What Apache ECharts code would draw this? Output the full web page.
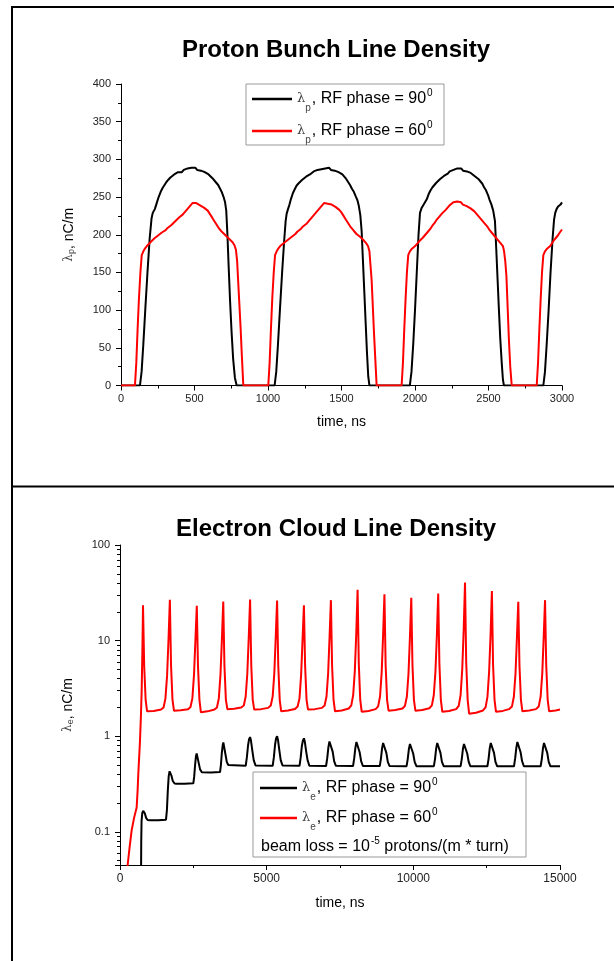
<!DOCTYPE html>
<html>
<head>
<meta charset="utf-8">
<script src="https://cdn.jsdelivr.net/npm/echarts@6/dist/echarts.min.js"></script>
<style>
  html, body { margin: 0; padding: 0; background: #fff; }
  #main { width: 614px; height: 961px; }
</style>
</head>
<body>
<div id="main"></div>
<script>
// proton bunch line density, [time ns, nC/m]
const bunch90 = [
  [0,0],[129,0],[140,18],[152,55],[165,100],[180,150],[195,195],[208,222],[216,229],[230,234],[243,242],[256,250],[270,257],[283,262],[296,266],[309,270],[322,273],[336,276],[349,277],[362,280],[375,279],[388,283],[401,284],[414,283],[427,286],[440,285],[453,288],[466,286],[479,289],[492,287],[505,289],[518,286],[531,288],[544,285],[557,286],[570,283],[583,283],[596,280],[609,279],[622,275],[635,273],[648,269],[661,266],[674,261],[687,256],[698,250],[708,243],[716,232],[724,200],[733,155],[742,112],[752,72],[763,35],[775,10],[787,0],
  [1045,0],[1056,18],[1068,55],[1081,100],[1096,150],[1110,192],[1120,218],[1127,228],[1136,234],[1146,240],[1157,248],[1169,255],[1181,260],[1194,265],[1207,268],[1220,270],[1233,273],[1246,275],[1259,277],[1272,279],[1285,280],[1298,282],[1311,284],[1324,283],[1337,286],[1350,285],[1363,287],[1376,286],[1389,288],[1402,286],[1415,289],[1428,286],[1441,287],[1454,285],[1467,286],[1480,283],[1493,282],[1506,280],[1519,277],[1532,274],[1545,270],[1558,266],[1571,261],[1584,257],[1597,251],[1608,246],[1618,238],[1628,226],[1637,205],[1646,165],[1655,125],[1664,85],[1673,45],[1682,12],[1690,0],
  [1965,0],[1976,18],[1988,55],[2000,100],[2012,150],[2024,200],[2034,229],[2044,235],[2056,239],[2068,243],[2080,247],[2093,254],[2106,259],[2119,263],[2132,266],[2145,269],[2158,271],[2171,274],[2184,276],[2197,278],[2210,280],[2223,281],[2236,284],[2249,283],[2262,286],[2275,285],[2288,288],[2301,286],[2314,288],[2327,285],[2340,287],[2353,284],[2366,284],[2379,282],[2392,281],[2405,278],[2418,277],[2431,274],[2444,271],[2457,268],[2470,263],[2483,259],[2496,253],[2508,246],[2520,240],[2532,232],[2544,218],[2553,180],[2562,140],[2571,100],[2580,62],[2590,30],[2598,8],[2605,0],
  [2873,0],[2884,18],[2896,55],[2909,100],[2922,150],[2936,195],[2946,220],[2954,229],[2963,234],[2972,237],[2981,238],[2990,240],[3000,243]
]
const bunch60 = [
  [0,0],[95,0],[104,30],[113,75],[122,115],[132,150],[141,173],[152,178],[164,182],[176,185],[188,187],[200,190],[213,192],[226,195],[239,197],[252,199],[265,201],[278,203],[291,205],[304,206],[317,209],[330,211],[343,213],[356,215],[369,218],[382,220],[395,223],[408,225],[421,227],[434,230],[447,233],[460,236],[473,239],[486,242],[499,241],[512,242],[525,240],[538,239],[551,238],[564,236],[577,234],[590,232],[603,228],[616,224],[629,220],[642,216],[655,212],[668,208],[681,205],[694,203],[707,200],[720,198],[733,195],[746,193],[759,190],[772,186],[782,180],[790,165],[798,135],[806,105],[814,75],[822,40],[832,0],
  [1002,0],[1011,30],[1020,75],[1029,115],[1039,150],[1048,173],[1059,178],[1071,182],[1083,185],[1095,187],[1108,189],[1121,190],[1134,193],[1147,195],[1160,197],[1173,199],[1186,201],[1199,204],[1212,206],[1225,208],[1238,211],[1251,213],[1264,215],[1277,218],[1290,221],[1303,224],[1316,227],[1329,230],[1342,233],[1355,236],[1368,239],[1381,242],[1394,243],[1407,241],[1420,242],[1433,240],[1446,239],[1459,237],[1472,235],[1485,233],[1498,230],[1511,226],[1524,222],[1537,218],[1550,214],[1563,210],[1576,207],[1589,204],[1602,201],[1615,199],[1628,197],[1641,195],[1654,192],[1667,189],[1680,185],[1690,178],[1697,160],[1705,140],[1713,105],[1721,70],[1730,35],[1739,0],
  [1909,0],[1918,30],[1927,75],[1936,115],[1945,150],[1954,173],[1965,178],[1977,181],[1989,183],[2001,185],[2014,188],[2027,191],[2040,193],[2053,196],[2066,199],[2079,201],[2092,205],[2105,208],[2118,212],[2131,215],[2144,219],[2157,221],[2170,225],[2183,228],[2196,230],[2209,233],[2222,236],[2235,239],[2248,241],[2261,243],[2274,242],[2287,244],[2300,242],[2313,243],[2326,240],[2339,239],[2352,238],[2365,237],[2378,235],[2391,233],[2404,231],[2417,228],[2430,225],[2443,222],[2456,219],[2469,216],[2482,213],[2495,210],[2508,206],[2521,203],[2534,200],[2547,197],[2560,194],[2573,191],[2586,188],[2598,185],[2606,178],[2614,165],[2622,145],[2630,105],[2639,60],[2648,25],[2658,0],
  [2828,0],[2837,30],[2846,75],[2855,115],[2864,150],[2873,173],[2884,178],[2896,181],[2908,183],[2920,185],[2933,189],[2946,193],[2959,196],[2972,199],[2985,203],[3000,207]
]

// electron cloud line density, [time ns, nC/m]
const cloud90 = [
  [0,0.01],[700,0.01],[716,0.03],[724,0.08],[735,0.13],[760,0.158],[790,0.166],[818,0.166],[850,0.155],[890,0.14],[940,0.133],[1023,0.132],[1300,0.132],[1568,0.134],
  [1600,0.17],[1630,0.27],[1660,0.38],[1690,0.43],[1715,0.43],[1750,0.39],[1800,0.34],[1860,0.32],[1932,0.318],[2200,0.318],[2500,0.322],
  [2530,0.38],[2560,0.5],[2590,0.62],[2614,0.66],[2640,0.63],[2680,0.53],[2730,0.45],[2790,0.42],[2841,0.417],[3100,0.418],[3410,0.422],
  [3440,0.5],[3470,0.66],[3500,0.8],[3523,0.86],[3550,0.82],[3590,0.66],[3640,0.54],[3690,0.5],[3750,0.495],
  [4285,0.49],[4325,0.6],[4365,0.8],[4400,0.93],[4435,0.98],[4465,0.9],[4510,0.71],[4560,0.56],[4620,0.495],
  [5205,0.49],[5245,0.6],[5285,0.81],[5320,0.95],[5355,1.0],[5385,0.92],[5430,0.72],[5480,0.56],[5540,0.495],
  [6120,0.49],[6160,0.6],[6200,0.79],[6235,0.9],[6270,0.95],[6300,0.88],[6345,0.7],[6395,0.56],[6455,0.492],
  [7025,0.488],[7065,0.59],[7105,0.77],[7140,0.88],[7175,0.92],[7205,0.85],[7250,0.69],[7300,0.55],[7360,0.49],
  [7945,0.488],[7985,0.59],[8025,0.76],[8060,0.87],[8095,0.91],[8125,0.84],[8170,0.68],[8220,0.55],[8280,0.488],
  [8855,0.487],[8895,0.58],[8935,0.75],[8970,0.85],[9005,0.89],[9035,0.83],[9080,0.67],[9130,0.54],[9190,0.487],
  [9770,0.486],[9810,0.58],[9850,0.74],[9885,0.83],[9920,0.87],[9950,0.81],[9995,0.66],[10045,0.54],[10105,0.486],
  [10700,0.486],[10740,0.58],[10780,0.75],[10815,0.85],[10850,0.89],[10880,0.83],[10925,0.67],[10975,0.54],[11035,0.486],
  [11612,0.486],[11652,0.58],[11692,0.74],[11727,0.83],[11762,0.87],[11792,0.81],[11837,0.66],[11887,0.54],[11947,0.485],
  [12525,0.485],[12565,0.58],[12605,0.75],[12640,0.85],[12675,0.89],[12705,0.83],[12750,0.67],[12800,0.54],[12860,0.485],
  [13432,0.485],[13472,0.59],[13512,0.76],[13547,0.87],[13582,0.91],[13612,0.84],[13657,0.68],[13707,0.55],[13767,0.485],
  [14340,0.485],[14380,0.58],[14420,0.75],[14455,0.85],[14490,0.89],[14520,0.83],[14565,0.67],[14615,0.54],[14675,0.484],[15000,0.484]
]
const cloud60 = [
  [200,0.03],[261,0.045],[330,0.07],[398,0.104],[480,0.14],[568,0.18],[600,0.27],[625,0.41],[655,0.62],[682,0.9],[712,1.6],[739,3.0],[760,7],[775,14],[784,23.4],
  [824,5.5],[874,2.4],[924,1.82],[1150,1.84],[1400,1.9],[1485,2.0],[1550,2.5],[1605,4.3],[1655,10.5],[1700,26.8],
  [1740,5.5],[1790,2.4],[1840,1.85],[2070,1.87],[2320,1.92],[2403,2.02],[2468,2.5],[2523,4.4],[2573,10.5],[2618,23.2],
  [2658,5.5],[2708,2.4],[2758,1.78],[2990,1.82],[3220,1.9],[3305,2.0],[3370,2.5],[3425,4.4],[3475,10.5],[3520,25.7],
  [3560,5.5],[3610,2.4],[3660,1.92],[3890,1.94],[4130,2.0],[4220,2.1],[4285,2.6],[4340,4.5],[4390,11],[4435,26.9],
  [4475,5.5],[4525,2.4],[4575,1.9],[4810,1.92],[5050,1.98],[5140,2.1],[5205,2.6],[5260,4.5],[5310,11],[5355,26.3],
  [5395,5.5],[5445,2.4],[5495,1.82],[5730,1.86],[5965,1.93],[6055,2.05],[6120,2.5],[6175,4.4],[6225,10.5],[6270,23.4],
  [6310,5.5],[6360,2.4],[6410,1.9],[6645,1.92],[6885,1.98],[6975,2.1],[7040,2.6],[7095,4.5],[7145,11],[7190,26.5],
  [7230,5.5],[7280,2.4],[7330,1.82],[7560,1.86],[7800,1.95],[7885,2.1],[7950,2.7],[8005,4.8],[8055,12],[8100,34],
  [8140,5.8],[8190,2.4],[8240,1.8],[8475,1.84],[8715,1.92],[8800,2.05],[8865,2.6],[8920,4.6],[8970,11.5],[9015,30.5],
  [9055,5.6],[9105,2.4],[9155,1.85],[9390,1.88],[9630,1.95],[9715,2.08],[9780,2.6],[9835,4.5],[9885,11],[9930,28],
  [9970,5.6],[10020,2.4],[10070,1.85],[10305,1.88],[10545,1.96],[10633,2.1],[10698,2.7],[10753,4.7],[10803,11.5],[10848,31],
  [10888,5.8],[10938,2.4],[10988,1.8],[11220,1.84],[11460,1.92],[11547,2.08],[11612,2.7],[11667,5],[11717,13],[11762,40.5],
  [11802,6],[11852,2.4],[11902,1.72],[12135,1.76],[12375,1.86],[12463,2.0],[12528,2.6],[12583,4.7],[12633,11.5],[12678,33],
  [12718,5.6],[12768,2.4],[12818,1.8],[13050,1.84],[13260,1.92],[13363,2.05],[13428,2.6],[13483,4.5],[13533,11],[13578,25.5],
  [13618,5.5],[13668,2.4],[13718,1.82],[13950,1.86],[14180,1.92],[14275,2.05],[14340,2.6],[14395,4.5],[14445,11],[14490,26.5],
  [14530,5.6],[14580,2.4],[14630,1.82],[14850,1.86],[15000,1.9]
]
// log axis labels to show
const logLabels = [0.1, 1, 10, 100]

const FONT = '"Liberation Sans", Arial, sans-serif'

// rich text pieces for λ with subscript and superscript
const rich = {
  g: { fontSize: 13, color: '#444', fontFamily: 'DejaVu Serif', lineHeight: 22 },
  s: { fontSize: 10, color: '#444', verticalAlign: 'bottom', lineHeight: 12, padding: [0, 1, -3, 0] },
  t: { fontSize: 16, color: '#000', fontFamily: FONT, lineHeight: 22 },
  u: { fontSize: 10, color: '#000', verticalAlign: 'top', lineHeight: 10, padding: [0, 0, 6, 1] }
}
const axisRich = {
  g: { fontSize: 12, color: '#444', fontFamily: 'DejaVu Serif' },
  s: { fontSize: 9, color: '#444', padding: [0, 0, -6, 0] },
  t: { fontSize: 14, color: '#000', fontFamily: FONT }
}
const legendText = {
  p90: '{g|λ}{s|p}{t|, RF phase = 90}{u|0}',
  p60: '{g|λ}{s|p}{t|, RF phase = 60}{u|0}',
  e90: '{g|λ}{s|e}{t|, RF phase = 90}{u|0}',
  e60: '{g|λ}{s|e}{t|, RF phase = 60}{u|0}'
}

function valueAxis(extra) {
  return Object.assign({
    type: 'value',
    axisLine: { show: true, onZero: false, lineStyle: { color: '#000', width: 1 } },
    axisTick: { show: true, length: 5, lineStyle: { color: '#000' } },
    minorTick: { show: true, splitNumber: 2, length: 3, lineStyle: { color: '#000' } },
    splitLine: { show: false },
    nameLocation: 'middle',
    nameTextStyle: { fontSize: 14, color: '#000', fontFamily: FONT }
  }, extra)
}

const myChart = echarts.init(document.querySelector('#main'))

const option = {
  animation: false,
  backgroundColor: '#fff',
  textStyle: { fontFamily: FONT },
  title: [
    {
      text: 'Proton Bunch Line Density', left: 336, top: 38, textAlign: 'center', padding: 0,
      textStyle: { fontSize: 24, fontWeight: 'bold', color: '#000', fontFamily: FONT }
    },
    {
      text: 'Electron Cloud Line Density', left: 336, top: 517, textAlign: 'center', padding: 0,
      textStyle: { fontSize: 24, fontWeight: 'bold', color: '#000', fontFamily: FONT }
    }
  ],
  grid: [
    { left: 121, top: 84, width: 441, height: 301.5 },
    { left: 120, top: 545, width: 440, height: 320 }
  ],
  xAxis: [
    valueAxis({
      gridIndex: 0, min: 0, max: 3000, interval: 500, name: 'time, ns', nameGap: 30,
      axisLabel: { fontSize: 11, color: '#222', margin: 8, formatter: v => String(v) }
    }),
    valueAxis({
      gridIndex: 1, min: 0, max: 15000, interval: 5000, name: 'time, ns', nameGap: 31,
      axisLabel: { fontSize: 12, color: '#222', margin: 8, formatter: v => String(v) }
    })
  ],
  yAxis: [
    valueAxis({
      gridIndex: 0, min: 0, max: 400, interval: 50,
      name: '{g|λ}{s|p}{t|, nC/m}', nameGap: 45,
      nameTextStyle: { rich: axisRich },
      axisLabel: { fontSize: 11, color: '#222', margin: 10, formatter: v => String(v) }
    }),
    valueAxis({
      gridIndex: 1, type: 'log', logBase: 10, min: 0.045, max: 100,
      name: '{g|λ}{s|e}{t|, nC/m}', nameGap: 45,
      nameTextStyle: { rich: axisRich },
      minorTick: { show: true, splitNumber: 9, length: 3, lineStyle: { color: '#000' } },
      axisLabel: {
        fontSize: 11, color: '#222', margin: 10,
        formatter: v => {
          const hit = logLabels.find(l => Math.abs(l - v) / l < 1e-6)
          return hit === undefined ? '' : String(hit)
        }
      }
    })
  ],
  legend: [
    {
      data: ['p90', 'p60'], orient: 'vertical', left: 252, top: 88, padding: 0,
      icon: 'rect', itemWidth: 40, itemHeight: 2.5, itemGap: 7,
      formatter: name => legendText[name],
      textStyle: { rich: rich }
    },
    {
      data: ['e90', 'e60'], orient: 'vertical', left: 260, top: 777, padding: 0,
      icon: 'rect', itemWidth: 37, itemHeight: 2.5, itemGap: 5,
      formatter: name => legendText[name],
      textStyle: { rich: rich }
    }
  ],
  graphic: [
    { type: 'line', shape: { x1: 12, y1: 7, x2: 614, y2: 7 }, style: { stroke: '#000', lineWidth: 2 } },
    { type: 'line', shape: { x1: 12, y1: 6, x2: 12, y2: 961 }, style: { stroke: '#000', lineWidth: 2 } },
    { type: 'line', shape: { x1: 12, y1: 486.5, x2: 614, y2: 486.5 }, style: { stroke: '#000', lineWidth: 2 } },
    { type: 'rect', shape: { x: 246, y: 84, width: 198, height: 61 }, style: { fill: 'none', stroke: '#999', lineWidth: 1 } },
    { type: 'rect', shape: { x: 253, y: 772, width: 273, height: 85 }, style: { fill: 'none', stroke: '#999', lineWidth: 1 } },
    {
      type: 'text', x: 261, y: 836,
      style: {
        text: '{t|beam loss = 10}{u|-5}{t| protons/(m * turn)}',
        rich: rich
      }
    }
  ],
  series: [
    { name: 'p90', type: 'line', xAxisIndex: 0, yAxisIndex: 0, data: bunch90, symbol: 'none', lineStyle: { color: '#000', width: 2 }, itemStyle: { color: '#000' } },
    { name: 'p60', type: 'line', xAxisIndex: 0, yAxisIndex: 0, data: bunch60, symbol: 'none', lineStyle: { color: '#ff0000', width: 2 }, itemStyle: { color: '#ff0000' } },
    { name: 'e90', type: 'line', xAxisIndex: 1, yAxisIndex: 1, data: cloud90, symbol: 'none', lineStyle: { color: '#000', width: 2 }, itemStyle: { color: '#000' } },
    { name: 'e60', type: 'line', xAxisIndex: 1, yAxisIndex: 1, data: cloud60, symbol: 'none', lineStyle: { color: '#ff0000', width: 2 }, itemStyle: { color: '#ff0000' } }
  ]
}

myChart.setOption(option)
</script>
</body>
</html>
